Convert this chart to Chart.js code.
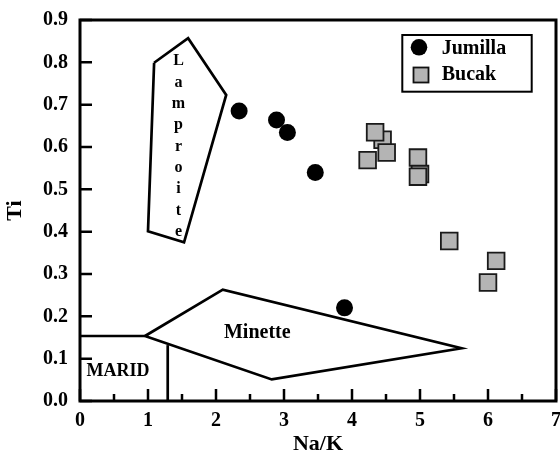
<!DOCTYPE html>
<html>
<head>
<meta charset="utf-8">
<script src="https://cdn.jsdelivr.net/npm/chart.js@4/dist/chart.umd.min.js"></script>
<style>
html,body{margin:0;padding:0;background:#fff;}
canvas{display:block;}
</style>
</head>
<body>
<canvas id="c" width="560" height="455"></canvas>
<script>
// ---- data ----
const jumillaX = [2.34, 2.89, 3.05, 3.46, 3.89];
const jumillaY = [0.685, 0.664, 0.634, 0.540, 0.220];
const bucakX = [4.45, 4.34, 4.51, 4.23, 4.97, 5.00, 4.97, 5.43, 6.12, 6.00];
const bucakY = [0.617, 0.635, 0.587, 0.569, 0.575, 0.536, 0.530, 0.378, 0.331, 0.280];

const lamproiteX = [1.09, 1.59, 2.15, 1.53, 1.00, 1.09];
const lamproiteY = [0.799, 0.857, 0.723, 0.375, 0.401, 0.799];
const minetteX = [0.956, 2.10, 5.61, 2.82, 0.956];
const minetteY = [0.1535, 0.263, 0.1245, 0.051, 0.1535];
const maridTopX = [0, 0.956];
const maridTopY = [0.1535, 0.1535];
const maridSideX = [1.29, 1.29];
const maridSideY = [0, 0.132];

const xTicks = [0, 1, 2, 3, 4, 5, 6, 7];
const yTicks = [0.0, 0.1, 0.2, 0.3, 0.4, 0.5, 0.6, 0.7, 0.8, 0.9];
const xLabel = 'Na/K';
const yLabel = 'Ti';
const seriesNames = ['Jumilla', 'Bucak'];
const regionNames = ['Lamproite', 'Minette', 'MARID'];
const regionAnchors = { Lamproite: [1.449, 0.803], Minette: [2.607, 0.1606], MARID: [0.559, 0.069] };

const pts = (xs, ys) => xs.map((x, i) => ({ x: x, y: ys[i] }));
const SERIF = '"Liberation Serif", "Times New Roman", serif';

function lineDS(xs, ys) {
  return {
    type: 'scatter', data: pts(xs, ys), showLine: true, fill: false,
    borderColor: '#000', borderWidth: 2.7, pointRadius: 0, pointHoverRadius: 0,
    borderJoinStyle: 'miter', order: 5, clip: false, tension: 0
  };
}

const overlay = {
  id: 'overlay',
  afterDatasetsDraw(chart) {
    const { ctx, chartArea: a, scales: { x, y } } = chart;
    ctx.save();
    // frame
    ctx.strokeStyle = '#000';
    ctx.lineWidth = 3;
    ctx.strokeRect(a.left, a.top, a.right - a.left, a.bottom - a.top);
    // y ticks (inside)
    ctx.lineWidth = 2.5;
    ctx.beginPath();
    yTicks.forEach(v => {
      const py = y.getPixelForValue(v);
      ctx.moveTo(a.left, py); ctx.lineTo(a.left + 12, py);
    });
    // x ticks (inside), majors + halves
    xTicks.forEach(v => {
      const px = x.getPixelForValue(v);
      ctx.moveTo(px, a.bottom); ctx.lineTo(px, a.bottom - 12);
      if (v < 7) {
        const ph = x.getPixelForValue(v + 0.5);
        ctx.moveTo(ph, a.bottom); ctx.lineTo(ph, a.bottom - 7);
      }
    });
    ctx.stroke();

    // region labels
    ctx.fillStyle = '#000';
    ctx.textAlign = 'center';
    ctx.textBaseline = 'middle';
    ctx.font = 'bold 16px ' + SERIF;
    const [lx, ly] = regionAnchors.Lamproite;
    const word = regionNames[0];
    const step = (y.getPixelForValue(0.399) - y.getPixelForValue(ly)) / (word.length - 1);
    for (let i = 0; i < word.length; i++) {
      ctx.fillText(word[i], x.getPixelForValue(lx), y.getPixelForValue(ly) + i * step);
    }
    ctx.font = 'bold 20px ' + SERIF;
    ctx.fillText(regionNames[1], x.getPixelForValue(regionAnchors.Minette[0]), y.getPixelForValue(regionAnchors.Minette[1]));
    ctx.font = 'bold 18px ' + SERIF;
    ctx.fillText(regionNames[2], x.getPixelForValue(regionAnchors.MARID[0]), y.getPixelForValue(regionAnchors.MARID[1]));

    // legend box
    const bx = a.right - 153.7, by = a.top + 15;
    ctx.lineWidth = 2;
    ctx.strokeRect(bx, by, 129.4, 56.7);
    ctx.beginPath();
    ctx.arc(bx + 16.7, by + 12.3, 8.3, 0, Math.PI * 2);
    ctx.fillStyle = '#000';
    ctx.fill();
    ctx.fillStyle = '#b4b4b4';
    ctx.fillRect(bx + 11.2, by + 32.5, 15, 15);
    ctx.lineWidth = 1.8;
    ctx.strokeStyle = '#111';
    ctx.strokeRect(bx + 11.2, by + 32.5, 15, 15);
    ctx.fillStyle = '#000';
    ctx.textAlign = 'left';
    ctx.textBaseline = 'alphabetic';
    ctx.font = 'bold 20px ' + SERIF;
    ctx.fillText(seriesNames[0], bx + 39.4, by + 19);
    ctx.fillText(seriesNames[1], bx + 39.4, by + 45);
    ctx.restore();
  }
};

new Chart(document.getElementById('c'), {
  type: 'scatter',
  data: {
    datasets: [
      {
        label: seriesNames[0], data: pts(jumillaX, jumillaY),
        pointStyle: 'circle', pointRadius: 8.5, pointHoverRadius: 8.5,
        backgroundColor: '#000', borderColor: '#000', borderWidth: 0, order: 0
      },
      {
        label: seriesNames[1], data: pts(bucakX, bucakY),
        pointStyle: 'rect', pointRadius: 11.8, pointHoverRadius: 11.8,
        backgroundColor: '#b4b4b4', borderColor: '#1a1a1a', borderWidth: 1.8, order: 1
      },
      Object.assign(lineDS(lamproiteX, lamproiteY), { label: regionNames[0] }),
      Object.assign(lineDS(minetteX, minetteY), { label: regionNames[1] }),
      Object.assign(lineDS(maridTopX, maridTopY), { label: regionNames[2] }),
      Object.assign(lineDS(maridSideX, maridSideY), { label: regionNames[2] })
    ]
  },
  options: {
    responsive: false,
    animation: false,
    events: [],
    layout: { autoPadding: false, padding: { top: 20, right: 4, left: 0, bottom: 0 } },
    plugins: { legend: { display: false }, tooltip: { enabled: false } },
    scales: {
      x: {
        type: 'linear', min: 0, max: 7,
        afterBuildTicks(s) { s.ticks = xTicks.map(v => ({ value: v })); },
        ticks: { color: '#000', padding: 8, font: { family: SERIF, size: 20, weight: 'bold' }, maxRotation: 0 },
        grid: { display: false, drawTicks: false },
        border: { display: false },
        title: { display: true, text: xLabel, color: '#000', padding: { top: 0, bottom: 0 },
                 font: { family: SERIF, size: 22, weight: 'bold', lineHeight: 1 } },
        afterFit(s) { s.height = 54; s.paddingLeft = 0; s.paddingRight = 0; }
      },
      y: {
        type: 'linear', min: 0, max: 0.9,
        afterBuildTicks(s) { s.ticks = yTicks.map(v => ({ value: v })); },
        ticks: { color: '#000', padding: 12, font: { family: SERIF, size: 20, weight: 'bold' },
                 callback: v => Number(v).toFixed(1) },
        grid: { display: false, drawTicks: false },
        border: { display: false },
        title: { display: true, text: yLabel, color: '#000', padding: { top: 4, bottom: 0 },
                 font: { family: SERIF, size: 22, weight: 'bold', lineHeight: 1 } },
        afterFit(s) { s.width = 80; s.paddingTop = 0; s.paddingBottom = 0; }
      }
    }
  },
  plugins: [overlay]
});
</script>
</body>
</html>
